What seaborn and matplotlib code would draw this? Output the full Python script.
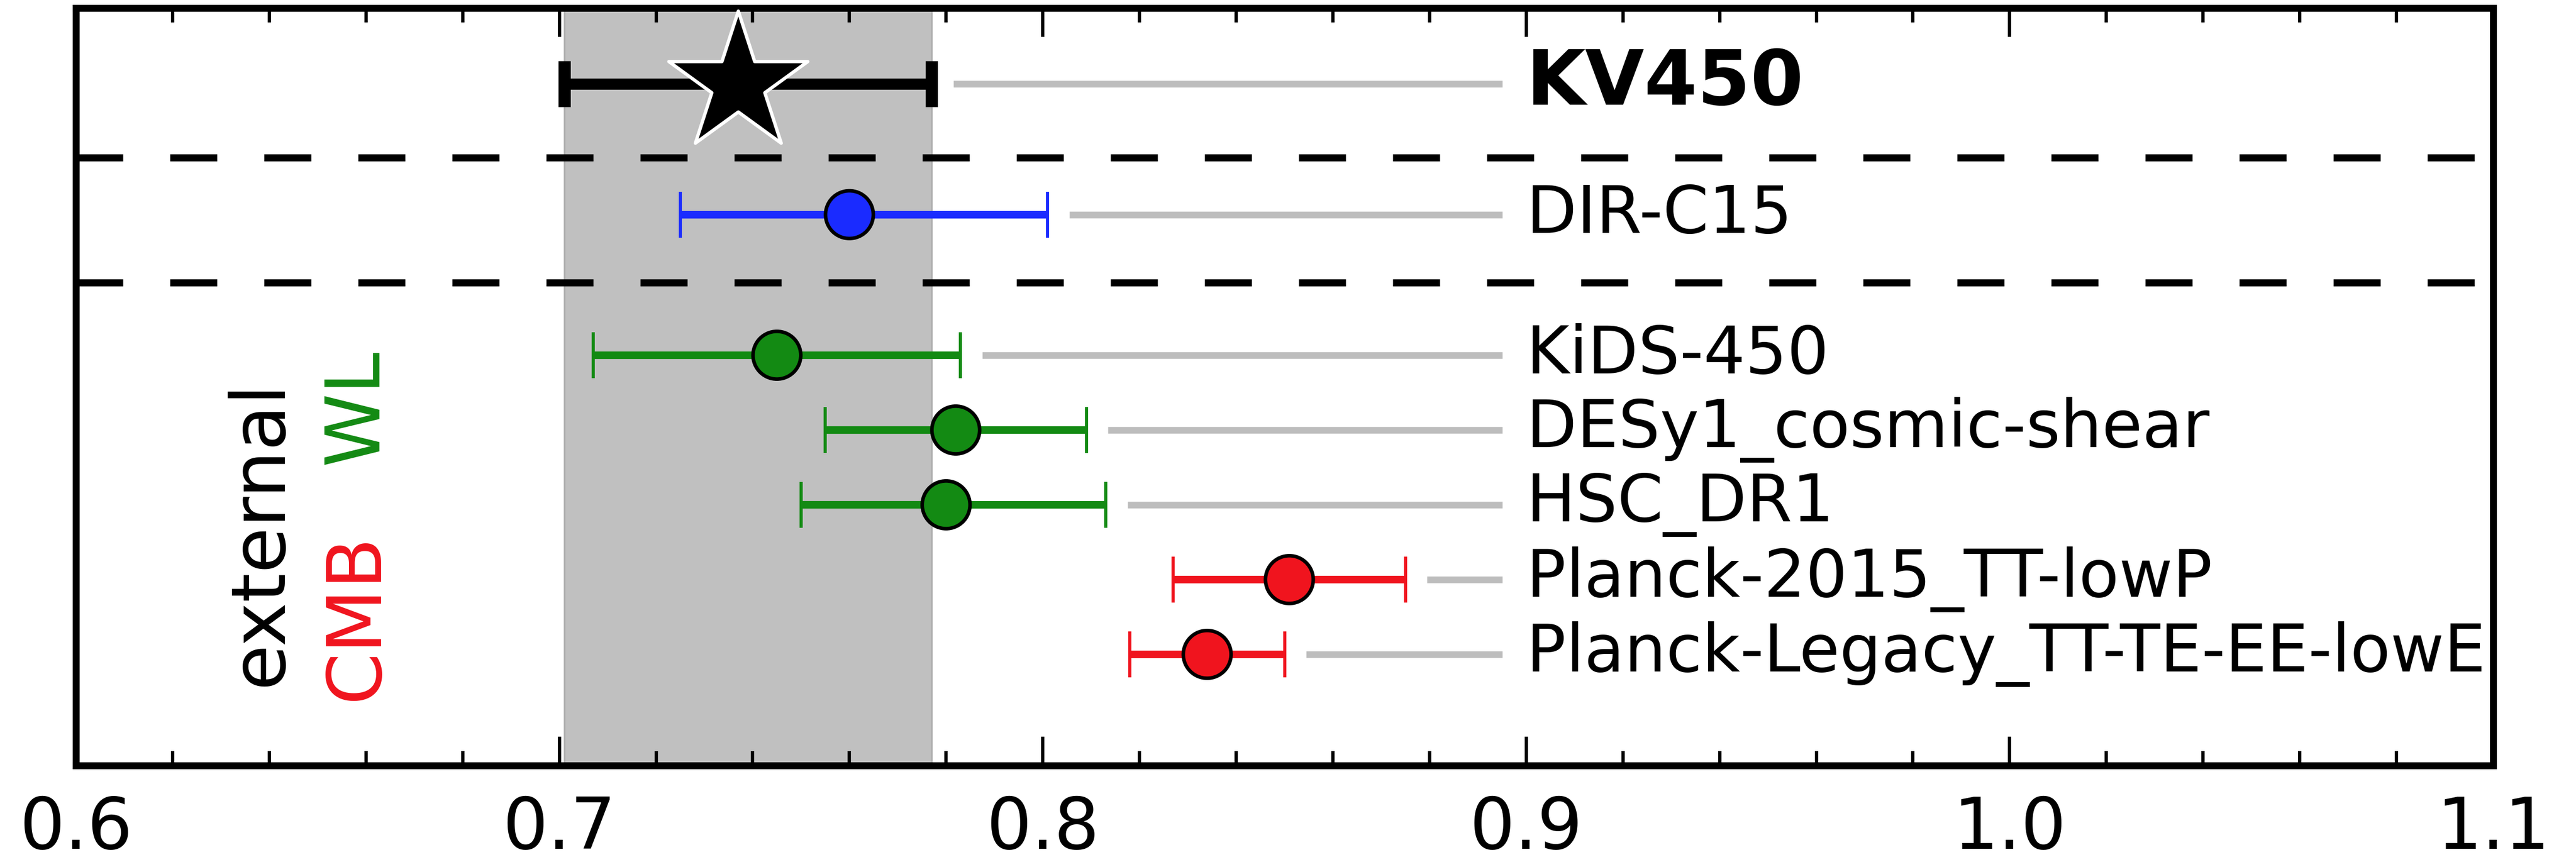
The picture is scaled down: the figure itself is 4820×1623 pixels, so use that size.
import numpy as np
import pandas as pd
import matplotlib
matplotlib.use("Agg")
import matplotlib.pyplot as plt
import seaborn as sns
from matplotlib.ticker import MultipleLocator, FormatStrFormatter

# ---------------- data ----------------
names = ["KV450", "DIR-C15", "KiDS-450", "DESy1_cosmic-shear", "HSC_DR1",
         "Planck-2015_TT-lowP", "Planck-Legacy_TT-TE-EE-lowE"]
s8 = [0.737, 0.760, 0.745, 0.782, 0.780, 0.851, 0.834]
err_lo = [0.036, 0.035, 0.038, 0.027, 0.030, 0.024, 0.016]
err_hi = [0.040, 0.041, 0.038, 0.027, 0.033, 0.024, 0.016]
kinds = ["KV450", "DIR", "WL", "WL", "WL", "CMB", "CMB"]
x_ticks = [0.6, 0.7, 0.8, 0.9, 1.0, 1.1]

# ---------------- style / layout ----------------
kind_colors = {"KV450": "black", "DIR": "#1a2bff", "WL": "#138a13", "CMB": "#f0141e"}
row_y = [1.37, 3.12, 5, 6, 7, 8, 9]
sep_y = [2.36, 4.03]
label_x = 0.9
grey_end = 0.895

W, H, DPI = 4820, 1623, 300
sns.set_theme(style="ticks")
plt.rcParams["font.family"] = ["DejaVu Sans"]

fig = plt.figure(figsize=(W / DPI, H / DPI), dpi=DPI, facecolor="white")
ax = fig.add_axes([142 / W, 1 - 1433 / H, (4665 - 142) / W, (1433 - 15) / H])
ax.set_facecolor("white")

s8a = np.array(s8)
lo = np.array(err_lo)
hi = np.array(err_hi)
cols = [kind_colors[k] for k in kinds]

# KV450 band
ax.axvspan(s8a[0] - lo[0], s8a[0] + hi[0], facecolor="#c0c0c0",
           edgecolor="#b0b0b0", lw=0.8, zorder=0)

# separators
for y in sep_y:
    ax.axhline(y, color="black", lw=3.2, ls=(0, (6.6, 6.6)), zorder=1)

# grey guide lines to labels
ax.hlines(row_y, s8a + hi + 0.0045, grey_end, color="#bdbdbd", lw=3.0, zorder=1)

# error bars
for i in range(len(names)):
    thick = i == 0
    ax.errorbar(s8a[i], row_y[i], xerr=[[lo[i]], [hi[i]]], fmt="none",
                ecolor=cols[i], elinewidth=5.0 if thick else 3.4,
                capsize=10.3, capthick=5.5 if thick else 1.4, zorder=2)

# circle markers via seaborn
df = pd.DataFrame({"s8": s8a[1:], "y": row_y[1:], "name": names[1:]})
sns.scatterplot(data=df, x="s8", y="y", hue="name",
                palette=dict(zip(names[1:], cols[1:])), s=460,
                edgecolor="black", linewidth=1.6, legend=False, zorder=3, ax=ax)

# KV450 star
sns.scatterplot(x=[s8a[0]], y=[row_y[0]], marker="*", s=4300, color="black",
                edgecolor="white", linewidth=1.5, zorder=4, ax=ax)

# labels
for i, nm in enumerate(names):
    if i == 0:
        ax.text(label_x, row_y[i], nm, fontsize=34.3, fontweight="bold",
                va="center", ha="left", color="black", zorder=5)
    else:
        ax.text(label_x, row_y[i], nm, fontsize=29.5, va="center", ha="left",
                color="black", zorder=5)

# vertical group labels
ax.text(0.6382, 7.38, "external", rotation=90, fontsize=33.5, color="black",
        ha="center", va="center")
ax.text(0.6581, 5.69, "WL", rotation=90, fontsize=33.5, color=kind_colors["WL"],
        ha="center", va="center")
ax.text(0.6581, 8.50, "CMB", rotation=90, fontsize=33.5, color=kind_colors["CMB"],
        ha="center", va="center")

# axes
ax.set_xlim(0.6, 1.1)
ax.set_ylim(10.486, 0.357)
ax.set_yticks([])
ax.set_xticks(x_ticks)
ax.xaxis.set_minor_locator(MultipleLocator(0.02))
ax.xaxis.set_major_formatter(FormatStrFormatter("%.1f"))
ax.tick_params(axis="x", which="both", direction="in", top=True, bottom=True,
               labeltop=False, labelsize=32, pad=13, color="black",
               labelcolor="black")
ax.tick_params(axis="x", which="major", length=13, width=1.5)
ax.tick_params(axis="x", which="minor", length=6.5, width=1.5)
ax.tick_params(axis="y", which="both", left=False, right=False)
for sp in ax.spines.values():
    sp.set_color("black")
    sp.set_linewidth(3.1)
    sp.set_visible(True)
ax.set_xlabel("")
ax.set_ylabel("")

fig.savefig("out.png", dpi=DPI, facecolor="white")
